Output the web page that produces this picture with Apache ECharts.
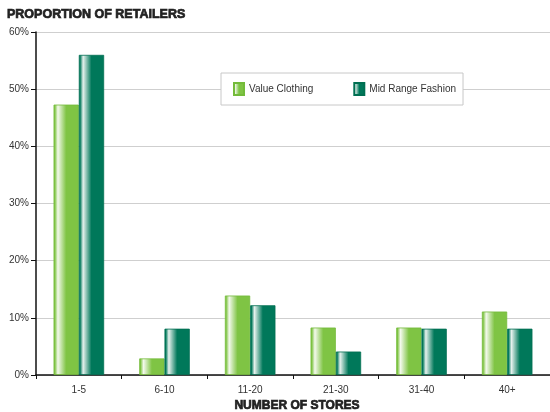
<!DOCTYPE html>
<html>
<head>
<meta charset="utf-8">
<script src="https://cdn.jsdelivr.net/npm/echarts@6/dist/echarts.min.js"></script>
<style>
  html, body { margin: 0; padding: 0; background: #fff; }
  #chart { width: 550px; height: 412px; }
</style>
</head>
<body>
<div id="chart"></div>
<script>
// Store-count bands and share of retailers in each (percent)
const categories = ['1-5', '6-10', '11-20', '21-30', '31-40', '40+'];
const valueClothing = [47.3, 2.9, 13.9, 8.3, 8.3, 11.1];
const midRangeFashion = [56.0, 8.1, 12.2, 4.1, 8.1, 8.1];
const yTicks = [0, 10, 20, 30, 40, 50, 60];

const narrow = '"Liberation Sans Narrow", "Arial Narrow", "Liberation Sans", sans-serif';
const heavy = '"Liberation Sans", Arial, sans-serif';

// Cylindrical sheen: solid edge, bright highlight near the left, fading back to the base colour
function sheen(base, light) {
  return new echarts.graphic.LinearGradient(0, 0, 1, 0, [
    { offset: 0, color: base },
    { offset: 0.05, color: base },
    { offset: 0.17, color: light },
    { offset: 0.5, color: base },
    { offset: 1, color: base }
  ]);
}

const chart = echarts.init(document.getElementById('chart'), null, { renderer: 'canvas' });

chart.setOption({
  animation: false,
  backgroundColor: '#fff',
  title: [
    {
      text: 'PROPORTION OF RETAILERS',
      left: 7, top: 8, padding: 0,
      textStyle: {
        fontFamily: heavy, fontWeight: 'bold', fontSize: 12.5, color: '#222',
        textBorderColor: '#222', textBorderWidth: 0.7
      }
    },
    {
      text: 'NUMBER OF STORES',
      left: 297, top: 400, padding: 0, textAlign: 'center',
      textStyle: {
        fontFamily: heavy, fontWeight: 'bold', fontSize: 12, color: '#222',
        textBorderColor: '#222', textBorderWidth: 0.7
      }
    }
  ],
  legend: {
    left: 221, top: 73,
    itemWidth: 10, itemHeight: 12,
    itemGap: 40,
    padding: [9, 7, 9, 12],
    backgroundColor: '#fff',
    borderColor: '#c8c8c8', borderWidth: 1,
    icon: 'rect',
    textStyle: { fontFamily: narrow, fontSize: 10, color: '#333' },
    data: ['Value Clothing', 'Mid Range Fashion']
  },
  grid: { left: 36, right: 0, top: 32, bottom: 37, containLabel: false },
  xAxis: {
    type: 'category',
    data: categories,
    axisLine: { lineStyle: { color: '#111', width: 1.5 } },
    axisTick: { show: true, length: 4, alignWithLabel: false, lineStyle: { color: '#111' } },
    axisLabel: { margin: 10, fontFamily: narrow, fontSize: 10, color: '#333' }
  },
  yAxis: {
    type: 'value',
    min: yTicks[0], max: yTicks[yTicks.length - 1], interval: 10,
    axisLine: { show: true, lineStyle: { color: '#111', width: 1.5 } },
    axisTick: { show: true, length: 5, lineStyle: { color: '#111' } },
    axisLabel: { margin: 7, fontFamily: narrow, fontSize: 10, color: '#333', formatter: '{value}%' },
    splitLine: { show: true, lineStyle: { color: '#cfcfcf', width: 1 } }
  },
  series: [
    {
      name: 'Value Clothing',
      type: 'bar',
      data: valueClothing,
      barGap: '0%',
      barCategoryGap: '41%',
      itemStyle: { color: sheen('#7fc444', '#f3f9ec'), borderColor: '#74bb3a', borderWidth: 0.8 }
    },
    {
      name: 'Mid Range Fashion',
      type: 'bar',
      data: midRangeFashion,
      itemStyle: { color: sheen('#00785a', '#e6f1ed'), borderColor: '#006f52', borderWidth: 0.8 }
    }
  ]
});
</script>
</body>
</html>
